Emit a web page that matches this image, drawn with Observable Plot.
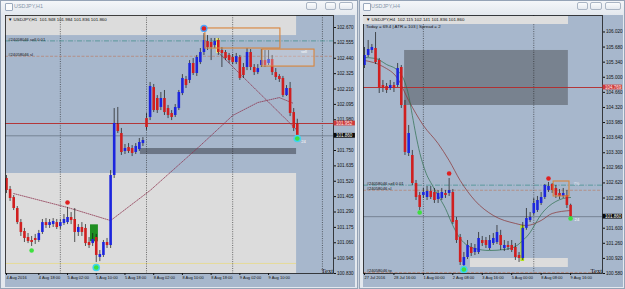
<!DOCTYPE html>
<html><head><meta charset="utf-8">
<script src="https://cdn.jsdelivr.net/npm/d3@7"></script>
<script src="https://cdn.jsdelivr.net/npm/@observablehq/plot@0.6"></script>
<style>
html,body{margin:0;padding:0}
body{width:625px;height:289px;position:relative;overflow:hidden;background:#cfd6df;font-family:"Liberation Sans",Arial,sans-serif}
.win{position:absolute;top:0;height:289px;box-sizing:border-box;border:1px solid #95a3b6;background:linear-gradient(#f4f6f9,#e3e8ee 14px,#e3e8ee)}
.ttl{position:absolute;top:3px;font-size:5.4px;color:#8796aa;white-space:nowrap}
.ico{position:absolute;top:3px;width:6px;height:6px;border:1px solid #9aa9bd;background:#fafbfc;border-radius:1px}
.btn{position:absolute;top:2px;height:8px;box-sizing:border-box;border:1px solid #aab5c4;border-radius:2px;background:linear-gradient(#fbfcfd,#e6eaf0)}
.chart{position:absolute;top:15px}
.hdr{position:absolute;white-space:nowrap;font-size:4.4px;color:#111;line-height:1}
</style></head><body>
<div class="win" style="left:0;width:358px"></div>
<div class="win" style="left:359px;width:266px"></div>
<div class="ico" style="left:5px"></div><div class="ttl" style="left:14px">USDJPY,H1</div>
<div class="btn" style="left:306px;width:11px"></div><div class="btn" style="left:325px;width:11px"></div><div class="btn" style="left:339px;width:14px"></div>
<div class="ico" style="left:363px"></div><div class="ttl" style="left:371px">USDJPY,H4</div>
<div class="btn" style="left:577px;width:11px"></div><div class="btn" style="left:590px;width:12px"></div><div class="btn" style="left:605px;width:16px"></div>
<div id="c1" class="chart" style="left:5px"></div>
<div id="c2" class="chart" style="left:363px"></div>
<div class="hdr" style="left:8px;top:17.5px">▼ USDJPY,H1&nbsp; 101.948 101.984 101.836 101.860</div>
<div style="position:absolute;left:363px;top:16px;width:205px;height:8px;background:#dedede"></div>
<div class="hdr" style="left:366px;top:17.5px">▼ USDJPY,H4&nbsp; 102.115 102.141 101.836 101.860</div>
<div class="hdr" style="left:366px;top:24.5px">Today = 69.4 | ATR = 103 | Spread = 2</div>
<script>
// ---------- H1 (left) data: bar index 0 = 4 Aug 2016 09:00 ----------
const h1Open = [
101.541,101.458,101.398,101.316,101.211,101.144,101.099,101.077,101.092,101.077,
101.137,101.211,101.189,101.196,101.211,101.181,101.204,101.211,101.249,101.234,
101.137,101.174,101.167,101.062,101.054,101.099,100.950,100.965,101.062,101.039,
101.563,101.944,101.877,101.743,101.772,101.765,101.735,101.757,101.802,101.989,
101.997,102.221,102.139,102.072,102.139,102.064,102.027,102.012,102.064,102.176,
102.281,102.274,102.401,102.326,102.408,102.483,102.565,102.558,102.535,102.573,
102.498,102.483,102.461,102.446,102.408,102.446,102.371,102.371,102.483,102.371,
102.333,102.386,102.423,102.401,102.431,102.333,102.304,102.289,102.161,102.214,
102.034,101.948];
const h1High = [
101.563,101.481,101.413,101.331,101.234,101.167,101.129,101.107,101.122,101.152,
101.234,101.241,101.234,101.241,101.234,101.234,101.271,101.324,101.286,101.316,
101.196,101.211,101.196,101.099,101.129,101.122,101.002,101.077,101.092,101.600,
102.064,102.072,101.915,101.795,101.802,101.787,101.802,101.840,101.847,102.027,
102.259,102.244,102.161,102.184,102.199,102.087,102.049,102.094,102.199,102.318,
102.304,102.423,102.438,102.461,102.513,102.625,102.610,102.588,102.588,102.588,
102.520,102.498,102.476,102.468,102.476,102.461,102.401,102.513,102.505,102.393,
102.393,102.505,102.498,102.498,102.461,102.363,102.318,102.304,102.236,102.259,
102.064,101.984];
const h1Low = [
101.428,101.369,101.301,101.196,101.107,101.062,101.054,101.032,101.047,101.062,
101.122,101.167,101.167,101.174,101.159,101.159,101.189,101.196,101.196,101.062,
101.107,101.107,101.032,101.017,101.032,100.912,100.919,100.950,101.017,101.017,
101.541,101.877,101.713,101.720,101.728,101.705,101.720,101.743,101.780,101.900,
101.974,102.034,102.027,102.049,102.012,101.989,101.974,101.997,102.049,102.161,
102.214,102.251,102.311,102.304,102.393,102.461,102.498,102.423,102.513,102.461,
102.371,102.423,102.401,102.393,102.393,102.274,102.289,102.348,102.348,102.311,
102.318,102.371,102.371,102.386,102.311,102.274,102.259,102.146,102.154,102.004,
101.892,101.836];
const h1Close = [
101.451,101.391,101.316,101.211,101.137,101.092,101.069,101.062,101.077,101.129,
101.211,101.189,101.211,101.219,101.174,101.211,101.234,101.249,101.226,101.137,
101.174,101.137,101.054,101.039,101.084,100.965,100.972,101.062,101.039,101.563,
101.952,101.892,101.735,101.765,101.743,101.728,101.780,101.810,101.825,101.922,
102.229,102.049,102.049,102.139,102.034,102.012,101.997,102.072,102.184,102.289,
102.236,102.401,102.326,102.446,102.483,102.573,102.520,102.520,102.565,102.483,
102.476,102.438,102.423,102.408,102.453,102.289,102.311,102.483,102.371,102.333,
102.363,102.423,102.386,102.431,102.333,102.296,102.281,102.161,102.214,102.027,
101.915,101.860];
const h1TickBars = [0,9,17,25,33,41,49,57,65,73];
const h1TickLabels = ["4 Aug 2016","4 Aug 18:00","5 Aug 02:00","5 Aug 10:00","5 Aug 18:00","8 Aug 02:00","8 Aug 10:00","8 Aug 18:00","9 Aug 02:00","9 Aug 10:00"];
const h1PriceTicks = [102.670,102.555,102.440,102.325,102.210,102.095,101.980,101.750,101.635,101.520,101.405,101.290,101.175,101.060,100.945,100.830];
const h1Separators = [15,39,63,88];
const h1LightZones = [{b0:-0.3,b1:80.8,lo:102.610,hi:102.760},{b0:-0.3,b1:80.8,lo:100.830,hi:101.578}];
const h1DarkZones = [{b0:37.3,b1:80.8,lo:101.720,hi:101.765}];
const h1YellowLine = [100.905];
const h1RedLine = [101.952];
const h1MaBars = [2,17,29,40,54,63,70,76,80];
const h1MaVals = [101.428,101.324,101.226,101.451,101.787,102.012,102.109,102.146,102.102];
const h1TrendBars = [59,81];
const h1TrendVals = [102.483,101.900];
const h1Boxes = [{b0:55.4,b1:76.3,lo:102.513,hi:102.663}];
const h1FilledBoxes = [{b0:71.3,b1:85.8,lo:102.378,hi:102.505}];
const h1GreenBlocks = [{b0:23.4,b1:25.6,lo:101.067,hi:101.194}];
const h1YellowBlocks = [{b0:58.55,b1:59.45,lo:102.476,hi:102.588}];
const h1UpDots = [{b:17,p:101.361}];
const h1UpRingDots = [{b:55,p:102.663}];
const h1DnDots = [{b:7,p:101.002}];
const h1DnRingDots = [{b:25,p:100.875},{b:81,p:101.840}];

// ---------- H4 (right) data: bar index 0 = 27 Jul 2016 08:00 ----------
const h4Open = [
105.265,105.490,105.603,105.648,105.378,104.815,104.792,104.747,104.815,104.815,
105.220,104.364,103.283,103.238,102.607,102.337,102.337,102.292,102.427,102.405,
102.247,102.270,102.382,102.382,102.405,101.774,101.391,100.760,100.940,101.166,
101.053,101.053,101.323,101.323,101.143,101.256,101.278,101.436,101.143,101.211,
101.211,101.166,100.985,100.918,101.597,101.774,101.932,102.000,102.157,102.292,
102.450,102.585,102.495,102.382,102.315,102.337,102.115];
const h4High = [
105.670,105.828,105.738,106.008,105.423,104.927,104.860,104.927,104.882,105.310,
105.265,104.477,103.914,103.351,102.675,102.405,102.495,102.540,102.540,102.495,
102.450,102.495,102.450,102.720,102.472,101.842,101.459,101.053,101.323,101.256,
101.233,101.504,101.414,101.391,101.436,101.481,101.661,101.552,101.323,101.301,
101.323,101.256,101.053,101.729,102.044,101.954,102.270,102.315,102.405,102.585,
102.630,102.607,102.562,102.472,102.495,102.450,102.141];
const h4Low = [
105.197,105.445,105.535,105.288,104.634,104.657,104.634,104.702,104.657,104.769,
104.297,103.238,103.215,102.562,102.224,101.999,102.270,102.224,102.247,102.157,
102.157,102.224,102.270,102.315,101.684,101.256,100.760,100.738,100.895,100.963,
100.985,101.008,101.188,101.143,101.098,101.211,101.233,101.098,101.075,101.098,
101.053,100.873,100.828,100.873,101.552,101.729,101.887,101.954,102.112,102.247,
102.405,102.382,102.270,102.247,102.270,102.044,101.836];
const h4Close = [
105.490,105.625,105.670,105.332,104.747,104.747,104.702,104.815,104.747,105.197,
104.364,103.306,103.733,102.607,102.292,102.067,102.405,102.427,102.292,102.224,
102.382,102.405,102.337,102.450,101.729,101.323,100.828,100.940,101.211,101.030,
101.143,101.369,101.256,101.211,101.323,101.369,101.504,101.211,101.211,101.166,
101.098,100.940,100.918,101.597,101.819,101.842,102.157,102.224,102.292,102.562,
102.540,102.450,102.337,102.315,102.382,102.112,101.860];
const h4TickBars = [0,8,16,24,32,40,48,56];
const h4TickLabels = ["27 Jul 2016","28 Jul 16:00","1 Aug 00:00","2 Aug 08:00","3 Aug 16:00","5 Aug 00:00","8 Aug 08:00","9 Aug 16:00"];
const h4PriceTicks = [106.020,105.680,105.340,105.000,104.660,104.320,103.980,103.640,103.300,102.960,102.620,102.280,101.600,101.260,100.920,100.580];
const h4Separators = [16,46];
const h4DarkZones = [{b0:10.9,b1:55.4,lo:104.364,hi:105.603}];
const h4LightZones = [{b0:28.8,b1:55.4,lo:100.715,hi:100.918}];
const h4RedLine = [104.769];
const h4FastBars = [0,3,6,9,11,12,13,14,15,16,17,18,20,22,24,26,28,30,34,38,41,43,45,46,48,50,52,54,56];
const h4FastVals = [105.445,105.423,105.288,105.152,104.882,104.589,104.139,103.688,103.306,103.013,102.787,102.630,102.337,102.044,101.661,101.369,101.211,101.143,101.098,101.121,101.188,101.323,101.504,101.639,101.909,102.089,102.202,102.270,102.292];
const h4SlowBars = [0,5,9,12,16,20,23,26,30,35,41,44,48,51,56];
const h4SlowVals = [105.378,105.242,104.972,104.477,103.914,103.508,103.125,102.675,102.224,101.887,101.707,101.661,101.774,101.932,101.999];
const h4Boxes = [{b0:51.4,b1:55.7,lo:102.315,hi:102.652}];
const h4GreenBlocks = [{b0:42.5,b1:43.5,lo:100.850,hi:101.660}];
const h4UpDots = [{b:23,p:102.832},{b:50,p:102.720}];
const h4DnDots = [{b:15,p:101.954},{b:56,p:101.819}];
const h4DnRingDots = [{b:27,p:100.671}];

// ---------- shared ----------
const lastPrice = 101.860;
const orderLines = [
  {name:"#24058046 sell 0.01", price:102.570, kind:"sell"},
  {name:"#24058046 sl", price:102.455, kind:"sl"},
  {name:"#24058046 tp", price:100.603, kind:"tp"}
];

const BG="#a7b7cc", BULL="#1c25de", BEAR="#d01f1f", WICK="#161616";
const FONT="'Liberation Sans', Arial, sans-serif";

function bars(o,h,l,c){ return o.map((v,i)=>({i, o:v, h:h[i], l:l[i], c:c[i]})); }
function pts(b,v){ return b.map((x,j)=>({b:x, p:v[j]})); }

function candles(data){
  return [
    Plot.ruleX(data, {x:"i", y1:"l", y2:"h", stroke:WICK, strokeWidth:0.7}),
    Plot.ruleX(data.filter(d=>d.c>=d.o), {x:"i", y1:"o", y2:"c", stroke:BULL, strokeWidth:2.6}),
    Plot.ruleX(data.filter(d=>d.c<d.o), {x:"i", y1:"o", y2:"c", stroke:BEAR, strokeWidth:2.6})
  ];
}
function dots(up, upRing, dn, dnRing){
  return [
    Plot.dot(upRing, {x:"b", y:"p", r:3.6, fill:"#4aa6ff", stroke:"none"}),
    Plot.dot(dnRing, {x:"b", y:"p", r:3.8, fill:"#3fd4f0", stroke:"none"}),
    Plot.dot(up.concat(upRing), {x:"b", y:"p", r:2.3, fill:"#e02020", stroke:"none"}),
    Plot.dot(dn.concat(dnRing), {x:"b", y:"p", r:2.3, fill:"#3ee03e", stroke:"none"})
  ];
}
// only the order lines that fall inside the visible price range are drawn (as MT4 does)
function orderMarks(x0, yDomain){
  const vis = orderLines.filter(d=>d.price>yDomain[0] && d.price<yDomain[1]);
  return [
    Plot.ruleY(vis.filter(d=>d.kind==="sell"), {y:"price", stroke:"#3b8c88", strokeWidth:0.7, strokeDasharray:"5,1.5,1,1.5"}),
    Plot.ruleY(vis.filter(d=>d.kind!=="sell"), {y:"price", stroke:"#b7806c", strokeWidth:0.7, strokeDasharray:"3,1.5"}),
    Plot.text(vis, {x:()=>x0, y:"price", text:"name", textAnchor:"start", lineAnchor:"bottom", fontSize:4.1, fill:"#111", dy:-0.3})
  ];
}
function tag(v, xmax, w, h, fill, color){
  return [
    Plot.rect([v], {x1:()=>xmax+0.15, x2:()=>xmax+w, y1:d=>d-h, y2:d=>d+h, fill}),
    Plot.text([v], {y:d=>d, frameAnchor:"right", dx:2.5, text:d=>d.toFixed(3), textAnchor:"start", fill:color, fontSize:4.5})
  ];
}

// ---------- left chart ----------
const h1 = bars(h1Open,h1High,h1Low,h1Close);
const X1 = [-0.2786, 91.086];
const Y1 = [100.830, 102.760];
const c1 = Plot.plot({
  width:350, height:272, marginLeft:0, marginRight:22, marginTop:0, marginBottom:14,
  style:{background:BG, fontFamily:FONT, color:"#111"},
  x:{domain:X1}, y:{domain:Y1},
  marks:[
    Plot.rect(h1LightZones, {x1:"b0", x2:"b1", y1:"lo", y2:"hi", fill:"#dcdcdc"}),
    Plot.rect(h1DarkZones, {x1:"b0", x2:"b1", y1:"lo", y2:"hi", fill:"#6c7686"}),
    Plot.ruleY(h1YellowLine, {x1:-0.3, x2:80.8, stroke:"#e8da8a", strokeWidth:0.8}),
    Plot.rect(h1GreenBlocks, {x1:"b0", x2:"b1", y1:"lo", y2:"hi", fill:"#1f8f22"}),
    Plot.rect(h1YellowBlocks, {x1:"b0", x2:"b1", y1:"lo", y2:"hi", fill:"#f6f07a"}),
    Plot.ruleX(h1Separators, {stroke:"#1c1c1c", strokeWidth:0.6, strokeDasharray:"1,1.3"}),
    Plot.ruleY(h1RedLine, {stroke:"#b42828", strokeWidth:0.9}),
    Plot.ruleY([lastPrice], {stroke:"#56626f", strokeWidth:0.6}),
    ...orderMarks(0.5, Y1),
    Plot.line(pts(h1MaBars,h1MaVals), {x:"b", y:"p", stroke:"#8e3650", strokeWidth:0.8, strokeDasharray:"1,1.2"}),
    Plot.line(pts(h1TrendBars,h1TrendVals), {x:"b", y:"p", stroke:"#8e3650", strokeWidth:0.8, strokeDasharray:"1,1.2"}),
    ...candles(h1),
    Plot.rect(h1FilledBoxes, {x1:"b0", x2:"b1", y1:"lo", y2:"hi", fill:"#ece4e6", fillOpacity:0.3, stroke:"#d9843a", strokeWidth:1.1}),
    Plot.rect(h1Boxes, {x1:"b0", x2:"b1", y1:"lo", y2:"hi", fill:"none", stroke:"#d9843a", strokeWidth:1.1}),
    Plot.text(["sell"], {x:()=>82, y:()=>102.488, fill:"#ffffff", fontSize:4, textAnchor:"start"}),
    ...dots(h1UpDots, h1UpRingDots, h1DnDots, h1DnRingDots),
    Plot.text(["24"], {x:()=>81, y:()=>101.815, dx:4, fill:"#ffffff", fontSize:4.2, textAnchor:"start"}),
    Plot.text(["Text"], {x:()=>X1[1], y:()=>Y1[0], dx:-0.5, dy:-0.5, textAnchor:"end", lineAnchor:"bottom", fontSize:6.5, fontFamily:"'Liberation Serif', serif", fill:"#111"}),
    Plot.frame({stroke:"#1a1a1a", strokeWidth:0.8}),
    Plot.axisY(h1PriceTicks, {anchor:"right", tickSize:2, tickPadding:1.5, fontSize:4.6, tickFormat:d=>d.toFixed(3), label:null}),
    Plot.axisX(h1TickBars, {anchor:"bottom", tickSize:2, tickPadding:1, fontSize:4, textAnchor:"start", label:null,
      tickFormat:d=>h1TickLabels[h1TickBars.indexOf(d)]}),
    ...tag(h1RedLine[0], X1[1], 6.1, 0.018, "#cf3b3b", "#fbe9e9"),
    ...tag(lastPrice, X1[1], 6.1, 0.018, "#0a0a0a", "#ffffff")
  ]
});
document.getElementById("c1").appendChild(c1);

// ---------- right chart ----------
const h4 = bars(h4Open,h4High,h4Low,h4Close);
const X2 = [-0.2717, 64.674];
const Y2 = [100.580, 106.391];
const c2 = Plot.plot({
  width:260, height:272, marginLeft:0, marginRight:21, marginTop:0, marginBottom:14,
  style:{background:BG, fontFamily:FONT, color:"#111"},
  x:{domain:X2}, y:{domain:Y2},
  marks:[
    Plot.rect(h4DarkZones, {x1:"b0", x2:"b1", y1:"lo", y2:"hi", fill:"#78828f"}),
    Plot.rect(h4LightZones, {x1:"b0", x2:"b1", y1:"lo", y2:"hi", fill:"#dcdcdc"}),
    Plot.rect(h4GreenBlocks, {x1:"b0", x2:"b1", y1:"lo", y2:"hi", fill:"#b3e21e"}),
    Plot.ruleX(h4Separators, {stroke:"#1c1c1c", strokeWidth:0.6, strokeDasharray:"1,1.3"}),
    Plot.ruleY(h4RedLine, {stroke:"#b42828", strokeWidth:0.9}),
    Plot.ruleY([lastPrice], {stroke:"#56626f", strokeWidth:0.6}),
    ...orderMarks(0.6, Y2),
    Plot.line(pts(h4SlowBars,h4SlowVals), {x:"b", y:"p", stroke:"#8a3030", strokeWidth:0.7, curve:"monotone-x"}),
    Plot.line(pts(h4FastBars,h4FastVals), {x:"b", y:"p", stroke:"#2d6e4c", strokeWidth:0.7, curve:"monotone-x"}),
    ...candles(h4),
    Plot.rect(h4Boxes, {x1:"b0", x2:"b1", y1:"lo", y2:"hi", fill:"none", stroke:"#d9843a", strokeWidth:1.1}),
    Plot.text(["7%"], {x:()=>56.8, y:()=>102.610, fill:"#e6edf6", fontSize:4.2, textAnchor:"start"}),
    ...dots(h4UpDots, [], h4DnDots, h4DnRingDots),
    Plot.text(["24"], {x:()=>56, y:()=>101.80, dx:4, fill:"#ffffff", fontSize:4.2, textAnchor:"start"}),
    Plot.text(["Text"], {x:()=>X2[1], y:()=>Y2[0], dx:-0.5, dy:-0.5, textAnchor:"end", lineAnchor:"bottom", fontSize:6.5, fontFamily:"'Liberation Serif', serif", fill:"#111"}),
    Plot.frame({stroke:"#1a1a1a", strokeWidth:0.8}),
    Plot.axisY(h4PriceTicks, {anchor:"right", tickSize:2, tickPadding:1.5, fontSize:4.6, tickFormat:d=>d.toFixed(3), label:null}),
    Plot.axisX(h4TickBars, {anchor:"bottom", tickSize:2, tickPadding:1, fontSize:4, textAnchor:"start", label:null,
      tickFormat:d=>h4TickLabels[h4TickBars.indexOf(d)]}),
    ...tag(h4RedLine[0], X2[1], 5.4, 0.054, "#cf3b3b", "#fbe9e9"),
    ...tag(lastPrice, X2[1], 5.4, 0.054, "#0a0a0a", "#ffffff")
  ]
});
document.getElementById("c2").appendChild(c2);
</script>
</body></html>
